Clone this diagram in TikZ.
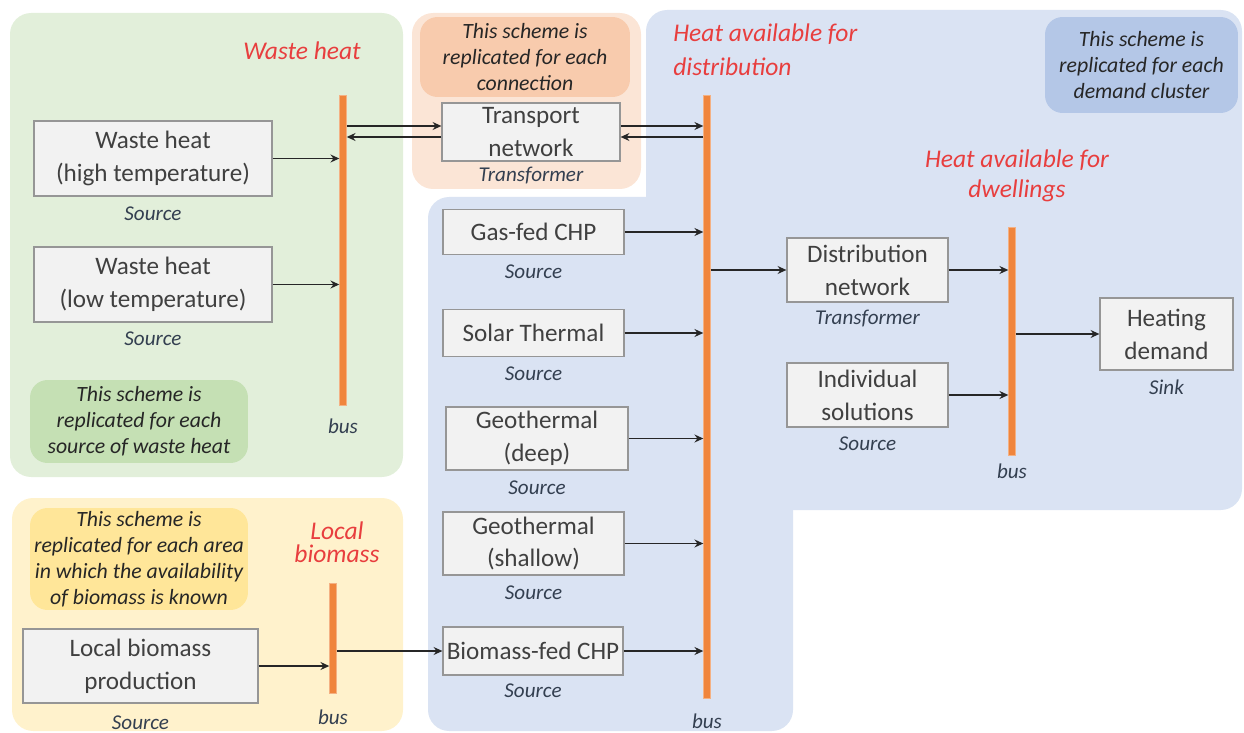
\documentclass[tikz,border=0pt]{standalone}
\usepackage{fontspec}
\setmainfont{Carlito}
\usetikzlibrary{arrows.meta,positioning}

\definecolor{wastegreen}{RGB}{226,239,218}
\definecolor{wastenote}{RGB}{197,224,180}
\definecolor{transorange}{RGB}{251,229,214}
\definecolor{transnote}{RGB}{248,203,173}
\definecolor{bioyellow}{RGB}{255,242,204}
\definecolor{bionote}{RGB}{255,230,153}
\definecolor{distblue}{RGB}{218,227,243}
\definecolor{distnote}{RGB}{180,199,231}
\definecolor{boxfill}{RGB}{242,242,242}
\definecolor{boxline}{RGB}{150,150,150}
\definecolor{boxtext}{RGB}{64,64,64}
\definecolor{kindtext}{RGB}{51,63,80}
\definecolor{tagred}{RGB}{232,62,62}
\definecolor{busorange}{RGB}{240,133,60}
\definecolor{busedge}{RGB}{244,177,131}
\definecolor{flowline}{RGB}{38,38,38}

\tikzset{
	blk/.style={draw=boxline, line width=0.7pt, fill=boxfill, text=boxtext, align=center, inner sep=0pt, font=\fontsize{14.3}{18.7}\selectfont},
	kind/.style={text=kindtext, inner sep=0pt, text height=8pt, text depth=1pt, font=\fontsize{12}{14}\selectfont\itshape},
	note/.style={rounded corners=10pt, align=center, inner sep=0pt, text=black!85, font=\fontsize{12.4}{14.7}\selectfont\itshape},
	tag/.style={text=tagred, align=center, inner sep=0pt},
	busbar/.style={draw=busedge, fill=busorange, line width=0.5pt, minimum width=0.13cm, inner sep=0pt},
	flow/.style={draw=flowline, line width=1pt, -{Stealth[length=5pt,width=4.5pt]}},
	panel/.style={rounded corners=12pt}
}

\begin{document}
\begin{tikzpicture}[x=0.02cm,y=-0.02cm]
	\useasboundingbox (0,0) rectangle (1244,733);
	% background panels
	\fill[wastegreen,panel] (10,13) rectangle (403,477);%waste heat
	\fill[bioyellow,panel] (12,498) rectangle (403,731);%biomass
	\fill[transorange,panel] (412,13) rectangle (641,189);%transport
	\fill[distblue,panel] (646,10) rectangle (1242,510);%distribution
	\fill[distblue,panel] (428,197) rectangle (793,731);
	% notes
	\node[note,fill=wastenote,minimum width=4.36cm,minimum height=1.66cm] (wnote) at (139,421.5) {This scheme is\\replicated for each\\source of waste heat};
	\node[note,fill=transnote,minimum width=4.2cm,minimum height=1.6cm] (tnote) at (525,57) {This scheme is\\replicated for each\\connection};
	\node[note,fill=distnote,minimum width=3.86cm,minimum height=1.92cm] (dnote) at (1141.5,65) {This scheme is\\replicated for each\\demand cluster};
	\node[note,fill=bionote,minimum width=4.36cm,minimum height=2.04cm] (bnote) at (139,559) {This scheme is\\replicated for each area\\in which the availability\\of biomass is known};
	% red titles
	\node[tag,font=\fontsize{14.5}{17.5}\selectfont\itshape] (wtag) at (302,51) {Waste heat};
	\node[tag,align=left,anchor=west,font=\fontsize{14.5}{19.5}\selectfont\itshape] (dtag) at (673,50) {Heat available for\\distribution};
	\node[tag,font=\fontsize{14.5}{17}\selectfont\itshape] (htag) at (1017,176) {Heat available for\\dwellings};
	\node[tag,font=\fontsize{14.5}{13}\selectfont\itshape] (btag) at (337,542) {Local\\biomass};
	% buses
	\node[busbar,minimum height=6.2cm] (wbus) at (343,250) {};
	\node[busbar,minimum height=12.06cm] (dbus) at (707,396.5) {};
	\node[busbar,minimum height=4.56cm] (hbus) at (1012,341) {};
	\node[busbar,minimum height=2.2cm] (bbus) at (333,638) {};
	\node[kind,below=0.28cm of wbus] (wbus-k) {bus};
	\node[kind,below=0.32cm of dbus] (dbus-k) {bus};
	\node[kind,below=0.18cm of hbus] (hbus-k) {bus};
	\node[kind,below=0.34cm of bbus] (bbus-k) {bus};
	% components
	\node[blk,minimum width=4.76cm,minimum height=1.5cm] (whigh) at (153,158.5) {Waste heat\\(high temperature)};
	\node[blk,minimum width=4.76cm,minimum height=1.5cm] (wlow) at (153,284.5) {Waste heat\\(low temperature)};
	\node[blk,minimum width=3.56cm,minimum height=1.16cm] (trans) at (531,132) {Transport\\network};
	\node[blk,minimum width=3.62cm,minimum height=0.9cm] (gas) at (533.5,232) {Gas-fed CHP};
	\node[blk,minimum width=3.62cm,minimum height=0.94cm] (solar) at (533.5,333) {Solar Thermal};
	\node[blk,minimum width=3.64cm,minimum height=1.26cm] (geodeep) at (537,438.5) {Geothermal\\(deep)};
	\node[blk,minimum width=3.62cm,minimum height=1.26cm] (geoshal) at (533.5,543.5) {Geothermal\\(shallow)};
	\node[blk,minimum width=3.6cm,minimum height=0.96cm] (biochp) at (533,651) {Biomass-fed CHP};
	\node[blk,minimum width=4.7cm,minimum height=1.48cm] (locbio) at (140.5,666) {Local biomass\\production};
	\node[blk,minimum width=3.22cm,minimum height=1.28cm] (distnet) at (867.5,270) {Distribution\\network};
	\node[blk,minimum width=3.22cm,minimum height=1.28cm] (indiv) at (867.5,395) {Individual\\solutions};
	\node[blk,minimum width=2.66cm,minimum height=1.44cm] (heatdem) at (1166.5,334) {Heating\\demand};
	% component types
	\node[kind,below=0.18cm of whigh] (whigh-k) {Source};
	\node[kind,below=0.16cm of wlow] (wlow-k) {Source};
	\node[kind,below=0.1cm of trans] (trans-k) {Transformer};
	\foreach \src in {gas,solar,geodeep,geoshal}
		\node[kind,below=0.18cm of \src] (\src-k) {Source};
	\node[kind,below=0.14cm of biochp] (biochp-k) {Source};
	\node[kind,below=0.22cm of locbio] (locbio-k) {Source};
	\node[kind,below=0.14cm of distnet] (distnet-k) {Transformer};
	\node[kind,below=0.16cm of indiv] (indiv-k) {Source};
	\node[kind,below=0.18cm of heatdem] (heatdem-k) {Sink};
	% flows
	\draw[flow] (whigh) -- (whigh -| wbus.west);
	\draw[flow] (wlow) -- (wlow -| wbus.west);
	\coordinate (tr-in) at ([yshift=0.12cm]trans.west);
	\coordinate (tr-back) at ([yshift=-0.1cm]trans.west);
	\coordinate (tr-out) at ([yshift=0.12cm]trans.east);
	\coordinate (tr-ret) at ([yshift=-0.1cm]trans.east);
	\draw[flow] (tr-in -| wbus.east) -- (tr-in);
	\draw[flow] (tr-back) -- (tr-back -| wbus.east);
	\draw[flow] (tr-out) -- (tr-out -| dbus.west);
	\draw[flow] (tr-ret -| dbus.west) -- (tr-ret);
	\foreach \src in {gas,solar,geodeep,geoshal,biochp}
		\draw[flow] (\src) -- (\src -| dbus.west);
	\draw[flow] (dbus.east |- distnet) -- (distnet);
	\draw[flow] (distnet) -- (distnet -| hbus.west);
	\draw[flow] (indiv) -- (indiv -| hbus.west);
	\draw[flow] (hbus.east |- heatdem) -- (heatdem);
	\draw[flow] (locbio) -- (locbio -| bbus.west);
	\draw[flow] (bbus.east |- biochp) -- (biochp);
\end{tikzpicture}
\end{document}
